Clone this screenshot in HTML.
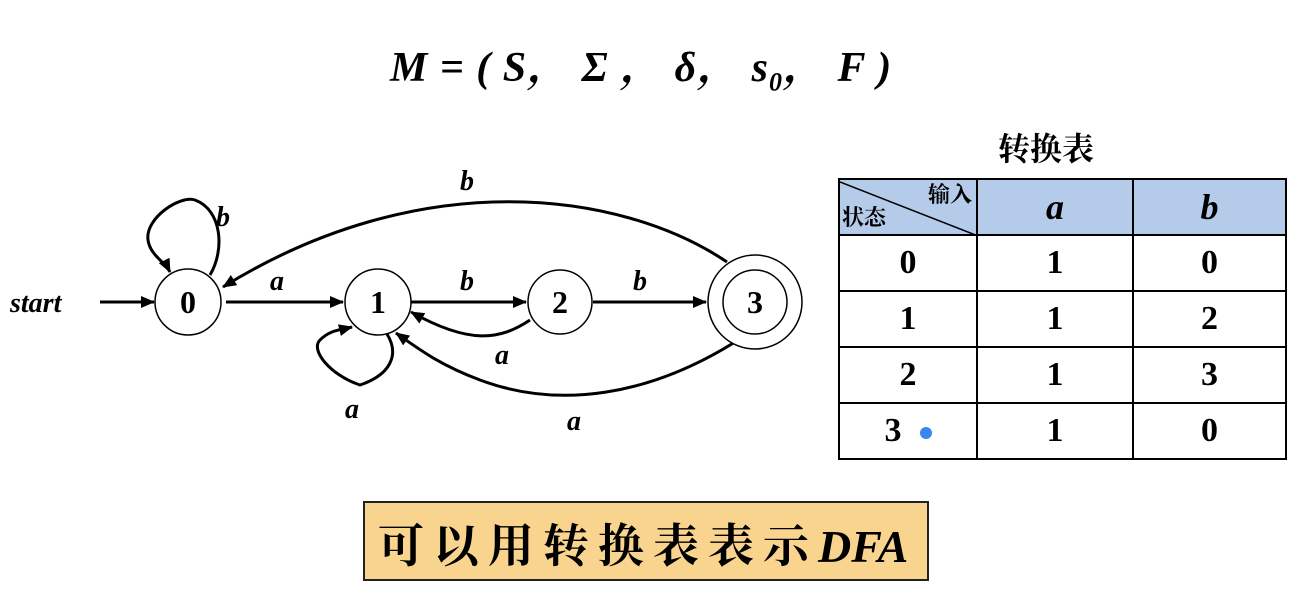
<!DOCTYPE html>
<html><head><meta charset="utf-8"><style>
body{margin:0;background:#fff;width:1295px;height:597px;overflow:hidden;position:relative;font-family:"Liberation Serif","Noto Serif CJK SC",serif}
.t{position:absolute;white-space:nowrap}
table{position:absolute;left:838px;top:178px;border-collapse:collapse}
td{border:2px solid #000;height:54px;text-align:center;font:bold 34px "Liberation Serif",serif;padding:0}
</style></head><body>
<div class="t" style="left:390px;top:34px;font:italic bold 42px 'Liberation Serif','Noto Serif CJK SC',serif;letter-spacing:1px">M = ( S，&nbsp;Σ ，&nbsp;δ，&nbsp;s<sub style="font-size:26px">0</sub>，&nbsp;F )</div>
<div class="t" style="left:998px;top:124px;font:bold 32px 'Noto Serif CJK SC',serif">转换表</div>
<table>
<tr style="background:#B4CBE9"><td style="width:136px;position:relative;font:bold 22px 'Noto Serif CJK SC',serif">
<svg width="140" height="56" style="position:absolute;left:0;top:0"><line x1="0" y1="2" x2="138" y2="56" stroke="#000" stroke-width="1.5"/></svg>
<span style="position:absolute;right:4px;top:-2px">输入</span><span style="position:absolute;left:2px;bottom:2px">状态</span></td>
<td style="width:154px;font-style:italic;font-size:36px">a</td><td style="width:151px;font-style:italic;font-size:36px">b</td></tr>
<tr><td>0</td><td>1</td><td>0</td></tr>
<tr><td>1</td><td>1</td><td>2</td></tr>
<tr><td>2</td><td>1</td><td>3</td></tr>
<tr><td>3<span style="display:inline-block;width:12px;height:12px;border-radius:50%;background:#3a86ee;margin-left:18px;vertical-align:middle"></span></td><td>1</td><td>0</td></tr>
</table>
<svg width="830" height="460" style="position:absolute;left:0;top:0" font-family="Liberation Serif" font-style="italic" font-weight="bold" font-size="28">
<defs><marker id="ar" markerWidth="14" markerHeight="12" refX="13" refY="6" orient="auto" markerUnits="userSpaceOnUse"><path d="M0,0 L14,6 L0,12 z"/></marker></defs>
<g fill="none" stroke="#000" stroke-width="3">
<line x1="100" y1="302" x2="154" y2="302" marker-end="url(#ar)"/>
<line x1="226" y1="302" x2="343" y2="302" marker-end="url(#ar)"/>
<line x1="411" y1="302" x2="526" y2="302" marker-end="url(#ar)"/>
<line x1="593" y1="302" x2="706" y2="302" marker-end="url(#ar)"/>
<path d="M727,262 C620,190 420,165 223,287" marker-end="url(#ar)"/>
<path d="M210,275 C225,250 222,210 195,200 C180,195 145,218 148,240 C150,255 165,262 170,272" marker-end="url(#ar)"/>
<path d="M530,320 C500,340 470,345 411,312" marker-end="url(#ar)"/>
<path d="M735,342 C650,395 560,410 480,380 C440,365 420,350 396,333" marker-end="url(#ar)"/>
<path d="M387,334 C400,355 390,375 360,385 C330,375 310,350 320,340 C330,330 340,330 352,327" marker-end="url(#ar)"/>
</g>
<g fill="#fff" stroke="#000" stroke-width="1.5">
<circle cx="188" cy="302" r="33"/><circle cx="378" cy="302" r="33"/><circle cx="560" cy="302" r="32"/>
<circle cx="755" cy="302" r="47"/><circle cx="755" cy="302" r="32"/></g>
<g font-style="normal" font-size="32" text-anchor="middle"><text x="188" y="313">0</text><text x="378" y="313">1</text><text x="560" y="313">2</text><text x="755" y="313">3</text></g>
<text x="10" y="312">start</text>
<text x="460" y="190">b</text><text x="216" y="226">b</text><text x="270" y="290">a</text>
<text x="460" y="290">b</text><text x="633" y="290">b</text><text x="495" y="364">a</text>
<text x="345" y="418">a</text><text x="567" y="430">a</text>
</svg>
<div style="position:absolute;left:363px;top:501px;width:562px;height:76px;background:#F9D48E;border:2px solid #222"></div>
<div class="t" style="left:378px;top:510px;font:bold 46px 'Noto Serif CJK SC',serif;letter-spacing:9px">可以用转换表表示<i style="font-family:'Liberation Serif';letter-spacing:0">DFA</i></div>
</body></html>
